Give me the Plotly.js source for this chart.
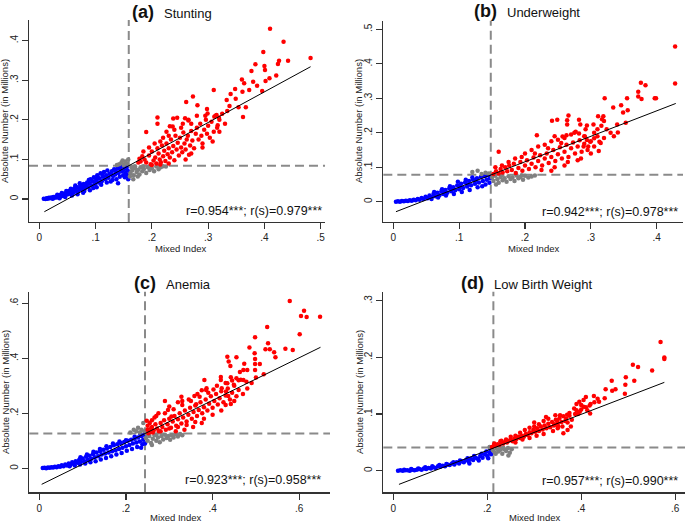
<!DOCTYPE html>
<html>
<head>
<meta charset="utf-8">
<script src="https://cdn.plot.ly/plotly-3.0.1.min.js"></script>
<style>
  html, body { margin: 0; padding: 0; background: #fff; }
  #chart { width: 685px; height: 522px; }
</style>
</head>
<body>
<div id="chart"></div>
<script>
// panel labels
const LETTERS = ["(a)", "(b)", "(c)", "(d)"];
const OUTCOMES = ["Stunting", "Underweight", "Anemia", "Low Birth Weight"];
const R_TEXT = [
  "r=0.954***; r(s)=0.979***",
  "r=0.942***; r(s)=0.978***",
  "r=0.923***; r(s)=0.958***",
  "r=0.957***; r(s)=0.990***"
];

// dashed cut-offs (mixed index, absolute number)
const CUT_X = [0.159, 0.148, 0.244, 0.213];
const CUT_Y = [0.084, 0.078, 0.127, 0.041];

// fitted line end points
const FIT_START = [[0.009, -0.032], [0.004, -0.029], [0.0055, -0.058], [0.012, -0.024]];
const FIT_END = [[0.482, 0.334], [0.429, 0.285], [0.649, 0.44], [0.577, 0.156]];

// tick values per panel
const X_TICKS = [[0, .1, .2, .3, .4, .5], [0, .1, .2, .3, .4], [0, .2, .4, .6], [0, .2, .4, .6]];
const Y_TICKS = [[0, .1, .2, .3, .4], [0, .1, .2, .3, .4, .5], [0, .2, .4, .6], [0, .1, .2, .3]];

// ---- (a) Stunting
const stuntingBlue = [
  [0.008,0.001],[0.011,0.0],[0.013,0.002],[0.015,0.001],[0.017,0.003],[0.019,0.002],[0.021,0.004],[0.023,0.002],
  [0.025,0.005],[0.027,0.003],[0.029,0.006],[0.031,0.004],[0.033,0.008],[0.035,0.005],[0.037,0.01],[0.039,0.007],
  [0.041,0.012],[0.043,0.008],[0.045,0.014],[0.047,0.01],[0.049,0.016],[0.051,0.012],[0.053,0.02],[0.055,0.014],
  [0.057,0.018],[0.059,0.024],[0.061,0.016],[0.063,0.028],[0.065,0.021],[0.067,0.03],[0.069,0.019],[0.071,0.026],
  [0.073,0.034],[0.075,0.024],[0.077,0.031],[0.079,0.038],[0.081,0.027],[0.083,0.035],[0.085,0.042],[0.087,0.03],
  [0.089,0.04],[0.091,0.05],[0.093,0.034],[0.095,0.045],[0.097,0.055],[0.099,0.038],[0.101,0.048],[0.103,0.06],
  [0.105,0.042],[0.107,0.052],[0.109,0.065],[0.111,0.045],[0.113,0.056],[0.115,0.068],[0.117,0.05],[0.119,0.06],
  [0.121,0.072],[0.123,0.054],[0.125,0.064],[0.127,0.044],[0.129,0.07],[0.131,0.058],[0.133,0.075],[0.135,0.062],
  [0.137,0.05],[0.139,0.078],[0.141,0.066],[0.143,0.056],[0.145,0.082],[0.147,0.07],[0.149,0.06],[0.151,0.076],
  [0.153,0.066],[0.155,0.08],[0.157,0.072],[0.159,0.062],[0.152,0.055],[0.144,0.074],[0.136,0.07],[0.128,0.062],
  [0.12,0.042],[0.112,0.062],[0.104,0.055],[0.096,0.028],[0.088,0.048],[0.08,0.02],[0.072,0.04],[0.064,0.034],
  [0.056,0.026],[0.048,0.02],[0.04,0.015],[0.032,0.011],[0.11,0.036],[0.13,0.048],[0.14,0.04],[0.158,0.05],[0.156,0.058],
  [0.024,0.001],[0.036,0.002],[0.046,0.005],[0.058,0.009],[0.068,0.012],[0.078,0.016],[0.09,0.022],[0.102,0.03]
];
const stuntingGray = [
  [0.142,0.088],[0.146,0.092],[0.15,0.086],[0.153,0.095],[0.156,0.089],[0.158,0.1],[0.148,0.097],[0.138,0.086],
  [0.162,0.065],[0.165,0.072],[0.168,0.06],[0.17,0.078],[0.173,0.068],[0.176,0.074],[0.178,0.062],[0.18,0.08],
  [0.183,0.07],[0.186,0.076],[0.19,0.066],[0.193,0.08],[0.196,0.073],[0.2,0.078],[0.204,0.07],[0.208,0.082],
  [0.212,0.075],[0.216,0.08],[0.22,0.083],[0.164,0.08],[0.17,0.083],[0.175,0.057],[0.185,0.083],[0.198,0.083],
  [0.161,0.057],[0.167,0.05],[0.225,0.082]
];
const stuntingRed = [
  [0.41,0.43],[0.434,0.397],[0.398,0.371],[0.482,0.356],[0.442,0.349],[0.426,0.349],[0.384,0.34],[0.4,0.336],
  [0.401,0.326],[0.424,0.341],[0.377,0.323],[0.36,0.302],[0.364,0.292],[0.38,0.296],[0.387,0.286],[0.421,0.312],
  [0.409,0.305],[0.402,0.298],[0.396,0.273],[0.373,0.275],[0.361,0.271],[0.348,0.278],[0.34,0.265],[0.349,0.253],
  [0.333,0.25],[0.338,0.235],[0.354,0.232],[0.367,0.232],[0.334,0.222],[0.362,0.207],[0.31,0.275],[0.273,0.259],
  [0.261,0.245],[0.281,0.237],[0.298,0.227],[0.299,0.216],[0.311,0.208],[0.315,0.212],[0.319,0.206],[0.317,0.186],
  [0.21,0.206],[0.21,0.19],[0.238,0.203],[0.232,0.184],[0.19,0.169],[0.259,0.204],[0.237,0.183],[0.265,0.198],
  [0.187,0.1],[0.19,0.092],[0.195,0.11],[0.198,0.088],[0.2,0.12],[0.203,0.097],[0.206,0.105],[0.208,0.09],
  [0.21,0.128],[0.212,0.115],[0.214,0.1],[0.216,0.093],[0.218,0.135],[0.22,0.108],[0.222,0.122],[0.224,0.096],
  [0.226,0.14],[0.228,0.113],[0.23,0.128],[0.232,0.105],[0.234,0.15],[0.236,0.118],[0.238,0.134],[0.24,0.098],
  [0.242,0.16],[0.244,0.125],[0.246,0.142],[0.248,0.11],[0.25,0.155],[0.252,0.13],[0.254,0.118],[0.256,0.168],
  [0.258,0.14],[0.26,0.125],[0.262,0.15],[0.264,0.16],[0.266,0.112],[0.268,0.135],[0.27,0.172],[0.272,0.148],
  [0.275,0.128],[0.278,0.165],[0.28,0.18],[0.283,0.15],[0.286,0.19],[0.288,0.16],[0.29,0.14],[0.293,0.175],
  [0.296,0.2],[0.298,0.165],[0.3,0.185],[0.303,0.155],[0.306,0.195],[0.31,0.17],[0.313,0.21],[0.316,0.18],
  [0.32,0.2],[0.325,0.215],[0.33,0.19],[0.245,0.205],[0.255,0.19],[0.226,0.17],[0.24,0.175],[0.252,0.18],
  [0.265,0.2],[0.28,0.21],[0.22,0.155],[0.205,0.14],[0.195,0.13],[0.185,0.12],[0.18,0.095],[0.183,0.108],
  [0.176,0.092],[0.178,0.102],[0.2,0.086],[0.215,0.087],[0.23,0.09],[0.26,0.1],[0.27,0.115],[0.29,0.13],
  [0.308,0.145],[0.32,0.17],[0.295,0.21],[0.27,0.19],[0.23,0.16],[0.215,0.145]
];

// ---- (b) Underweight
const underweightBlue = [
  [0.004,0.0],[0.007,0.001],[0.01,0.0],[0.013,0.002],[0.016,0.001],[0.019,0.003],[0.022,0.002],[0.025,0.004],
  [0.028,0.003],[0.031,0.006],[0.034,0.004],[0.037,0.008],[0.04,0.006],[0.043,0.011],[0.046,0.008],[0.049,0.014],
  [0.052,0.01],[0.055,0.018],[0.058,0.013],[0.061,0.022],[0.064,0.016],[0.067,0.026],[0.07,0.019],[0.073,0.03],
  [0.076,0.022],[0.079,0.034],[0.082,0.026],[0.085,0.038],[0.088,0.03],[0.091,0.042],[0.094,0.033],[0.097,0.047],
  [0.1,0.036],[0.103,0.052],[0.106,0.04],[0.109,0.056],[0.112,0.044],[0.115,0.06],[0.118,0.048],[0.121,0.064],
  [0.124,0.052],[0.127,0.068],[0.13,0.056],[0.133,0.072],[0.136,0.06],[0.139,0.074],[0.142,0.064],[0.145,0.076],
  [0.147,0.068],[0.14,0.05],[0.128,0.042],[0.116,0.034],[0.104,0.028],[0.092,0.022],[0.08,0.018],[0.068,0.012],
  [0.058,0.008],[0.11,0.064],[0.12,0.07],[0.098,0.058],[0.086,0.045],[0.074,0.036],[0.062,0.028],[0.135,0.045],
  [0.146,0.055],[0.125,0.062],[0.113,0.05],[0.101,0.045],[0.089,0.038],[0.077,0.028]
];
const underweightGray = [
  [0.12,0.086],[0.128,0.09],[0.134,0.08],[0.14,0.084],[0.145,0.082],[0.15,0.07],[0.152,0.06],[0.155,0.075],
  [0.158,0.065],[0.16,0.055],[0.163,0.072],[0.166,0.062],[0.169,0.068],[0.172,0.058],[0.175,0.074],[0.178,0.066],
  [0.181,0.07],[0.184,0.06],[0.187,0.076],[0.19,0.068],[0.193,0.072],[0.197,0.064],[0.2,0.075],[0.205,0.07],
  [0.21,0.073],[0.156,0.05],[0.165,0.077],[0.215,0.076],[0.195,0.077]
];
const underweightRed = [
  [0.428,0.45],[0.428,0.343],[0.376,0.345],[0.383,0.338],[0.372,0.319],[0.372,0.305],[0.377,0.298],[0.397,0.3],
  [0.399,0.3],[0.355,0.3],[0.321,0.3],[0.346,0.28],[0.356,0.265],[0.349,0.259],[0.334,0.273],[0.311,0.248],
  [0.319,0.248],[0.317,0.239],[0.32,0.234],[0.316,0.22],[0.266,0.25],[0.241,0.235],[0.249,0.238],[0.264,0.236],
  [0.264,0.224],[0.282,0.238],[0.284,0.224],[0.294,0.221],[0.292,0.21],[0.304,0.224],[0.34,0.224],[0.341,0.201],
  [0.353,0.229],[0.324,0.21],[0.277,0.203],[0.282,0.198],[0.263,0.193],[0.257,0.189],[0.245,0.19],[0.218,0.193],
  [0.291,0.189],[0.294,0.179],[0.299,0.174],[0.305,0.184],[0.313,0.174],[0.312,0.147],[0.296,0.16],[0.289,0.16],
  [0.16,0.145],
  [0.152,0.08],[0.156,0.088],[0.16,0.082],[0.163,0.095],[0.166,0.085],[0.17,0.1],[0.173,0.088],[0.176,0.105],
  [0.18,0.092],[0.183,0.11],[0.186,0.083],[0.19,0.098],[0.193,0.115],[0.196,0.09],[0.2,0.105],[0.203,0.12],
  [0.206,0.095],[0.21,0.11],[0.213,0.128],[0.216,0.1],[0.22,0.118],[0.223,0.135],[0.226,0.105],[0.23,0.125],
  [0.233,0.14],[0.236,0.112],[0.24,0.13],[0.243,0.15],[0.246,0.118],[0.25,0.138],[0.253,0.158],[0.256,0.125],
  [0.26,0.145],[0.263,0.165],[0.266,0.13],[0.27,0.155],[0.273,0.172],[0.276,0.14],[0.28,0.16],[0.283,0.178],
  [0.286,0.145],[0.29,0.168],[0.295,0.15],[0.3,0.175],[0.305,0.16],[0.31,0.19],[0.315,0.17],[0.2,0.14],
  [0.21,0.15],[0.22,0.16],[0.23,0.165],[0.24,0.175],[0.25,0.18],[0.26,0.185],[0.27,0.195],[0.185,0.125],
  [0.175,0.115],[0.165,0.105],[0.155,0.1],[0.195,0.13],[0.225,0.092],[0.245,0.1],[0.265,0.115],[0.285,0.125],
  [0.275,0.2],[0.255,0.17],[0.235,0.155],[0.215,0.14],[0.24,0.09],[0.26,0.105],[0.28,0.12],[0.3,0.14],
  [0.32,0.185],[0.33,0.2],[0.335,0.19],[0.29,0.19],[0.305,0.2],[0.31,0.21]
];

// ---- (c) Anemia
const anemiaBlue = [
  [0.008,0.001],[0.012,0.002],[0.016,0.0],[0.02,0.003],[0.024,0.002],[0.028,0.004],[0.032,0.003],[0.036,0.006],
  [0.04,0.004],[0.044,0.008],[0.048,0.006],[0.052,0.011],[0.056,0.008],[0.06,0.014],[0.064,0.01],[0.068,0.018],
  [0.072,0.013],[0.076,0.022],[0.08,0.016],[0.084,0.026],[0.088,0.02],[0.092,0.03],[0.096,0.023],[0.1,0.036],
  [0.104,0.026],[0.108,0.042],[0.112,0.03],[0.116,0.046],[0.12,0.035],[0.124,0.052],[0.128,0.04],[0.132,0.058],
  [0.136,0.044],[0.14,0.062],[0.144,0.05],[0.148,0.068],[0.152,0.054],[0.156,0.072],[0.16,0.058],[0.164,0.078],
  [0.168,0.062],[0.172,0.084],[0.176,0.066],[0.18,0.088],[0.184,0.07],[0.188,0.092],[0.192,0.075],[0.196,0.096],
  [0.2,0.08],[0.204,0.1],[0.208,0.085],[0.212,0.104],[0.216,0.09],[0.22,0.108],[0.224,0.094],[0.228,0.112],
  [0.232,0.098],[0.236,0.118],[0.24,0.104],[0.243,0.122],[0.238,0.088],[0.226,0.078],[0.214,0.07],[0.202,0.064],
  [0.19,0.056],[0.178,0.05],[0.166,0.044],[0.154,0.038],[0.142,0.032],[0.13,0.026],[0.118,0.022],[0.106,0.018],
  [0.094,0.014],[0.082,0.01],[0.07,0.008],[0.185,0.098],[0.2,0.102],[0.17,0.09],[0.155,0.08],[0.14,0.07],
  [0.125,0.06],[0.11,0.05],[0.095,0.04],[0.233,0.125],[0.22,0.115],[0.244,0.09],[0.235,0.075]
];
const anemiaGray = [
  [0.21,0.13],[0.218,0.14],[0.224,0.135],[0.228,0.148],[0.232,0.13],[0.236,0.14],[0.24,0.165],[0.243,0.135],
  [0.246,0.11],[0.25,0.1],[0.254,0.118],[0.258,0.092],[0.262,0.108],[0.266,0.12],[0.27,0.1],[0.274,0.112],
  [0.278,0.095],[0.282,0.118],[0.286,0.105],[0.29,0.122],[0.294,0.11],[0.298,0.118],[0.302,0.104],[0.306,0.12],
  [0.31,0.112],[0.315,0.124],[0.32,0.116],[0.325,0.125],[0.33,0.12],[0.248,0.125],[0.26,0.085],[0.27,0.122]
];
const anemiaRed = [
  [0.578,0.608],[0.611,0.573],[0.604,0.554],[0.617,0.55],[0.648,0.551],[0.601,0.487],[0.585,0.43],[0.568,0.435],
  [0.526,0.514],[0.528,0.455],[0.532,0.433],[0.522,0.433],[0.542,0.422],[0.545,0.404],[0.498,0.476],[0.485,0.439],
  [0.497,0.418],[0.498,0.397],[0.498,0.379],[0.509,0.379],[0.498,0.357],[0.518,0.342],[0.434,0.406],[0.437,0.388],
  [0.441,0.372],[0.455,0.404],[0.473,0.38],[0.463,0.35],[0.471,0.357],[0.48,0.357],[0.419,0.332],[0.419,0.321],
  [0.442,0.331],[0.445,0.319],[0.455,0.327],[0.465,0.322],[0.471,0.321],[0.478,0.315],[0.381,0.321],[0.434,0.309],
  [0.449,0.304],[0.375,0.284],[0.386,0.291],[0.402,0.287],[0.421,0.291],[0.431,0.279],[0.436,0.263],[0.442,0.234],
  [0.328,0.26],[0.33,0.245],[0.358,0.263],[0.362,0.233],[0.297,0.212],[0.305,0.188],[0.248,0.173],
  [0.25,0.14],[0.255,0.132],[0.26,0.15],[0.264,0.138],[0.268,0.16],[0.272,0.145],[0.276,0.135],[0.28,0.165],
  [0.284,0.15],[0.288,0.175],[0.292,0.14],[0.296,0.16],[0.3,0.18],[0.304,0.148],[0.308,0.17],[0.312,0.19],
  [0.316,0.155],[0.32,0.178],[0.324,0.2],[0.328,0.163],[0.332,0.185],[0.336,0.21],[0.34,0.17],[0.344,0.195],
  [0.348,0.22],[0.352,0.18],[0.356,0.205],[0.36,0.228],[0.364,0.19],[0.368,0.212],[0.372,0.24],[0.376,0.2],
  [0.38,0.222],[0.384,0.25],[0.388,0.21],[0.392,0.235],[0.396,0.262],[0.4,0.22],[0.404,0.245],[0.408,0.27],
  [0.412,0.232],[0.416,0.255],[0.42,0.28],[0.425,0.24],[0.43,0.265],[0.435,0.29],[0.44,0.25],[0.445,0.275],
  [0.45,0.3],[0.455,0.262],[0.46,0.285],[0.27,0.19],[0.29,0.2],[0.31,0.215],[0.33,0.23],[0.35,0.245],
  [0.37,0.26],[0.39,0.275],[0.28,0.135],[0.3,0.145],[0.32,0.15],[0.34,0.158],[0.36,0.168],[0.38,0.18],
  [0.4,0.195],[0.42,0.21],[0.26,0.175],[0.255,0.165],[0.275,0.2],[0.3,0.225],[0.32,0.24],[0.29,0.245],
  [0.345,0.25],[0.365,0.27],[0.385,0.285],[0.41,0.3],[0.43,0.31],[0.315,0.135],[0.335,0.14],[0.355,0.15],
  [0.375,0.165],[0.252,0.128],[0.262,0.13],[0.43,0.23],[0.45,0.245],[0.47,0.27],[0.48,0.29],[0.49,0.31],
  [0.5,0.33],[0.46,0.32],[0.25,0.155],[0.258,0.145],[0.266,0.185]
];

// ---- (d) Low Birth Weight
const lbwBlue = [
  [0.01,0.0],[0.015,0.001],[0.02,0.0],[0.025,0.001],[0.03,0.001],[0.035,0.0],[0.04,0.002],[0.045,0.001],
  [0.05,0.002],[0.055,0.003],[0.06,0.002],[0.065,0.004],[0.07,0.003],[0.075,0.005],[0.08,0.004],[0.085,0.006],
  [0.09,0.005],[0.095,0.008],[0.1,0.007],[0.105,0.009],[0.11,0.008],[0.115,0.011],[0.12,0.01],[0.125,0.013],
  [0.13,0.011],[0.135,0.015],[0.14,0.013],[0.145,0.017],[0.15,0.015],[0.155,0.019],[0.16,0.017],[0.165,0.021],
  [0.17,0.019],[0.175,0.023],[0.18,0.021],[0.185,0.026],[0.19,0.023],[0.195,0.029],[0.2,0.026],[0.205,0.032],
  [0.208,0.029],[0.21,0.036],[0.188,0.03],[0.172,0.026],[0.158,0.022],[0.142,0.018],[0.128,0.015],[0.113,0.012],
  [0.098,0.01],[0.083,0.008],[0.068,0.006],[0.053,0.004],[0.038,0.003],[0.023,0.002],[0.198,0.034],[0.182,0.018],
  [0.162,0.013],[0.202,0.022],[0.207,0.038]
];
const lbwGray = [
  [0.205,0.042],[0.212,0.036],[0.216,0.032],[0.22,0.039],[0.224,0.034],[0.228,0.037],[0.232,0.03],[0.236,0.038],
  [0.24,0.035],[0.244,0.04],[0.248,0.032],[0.252,0.038],[0.245,0.027],[0.226,0.04],[0.234,0.041],[0.218,0.03]
];
const lbwRed = [
  [0.569,0.227],[0.577,0.2],[0.577,0.197],[0.551,0.177],[0.51,0.187],[0.521,0.183],[0.495,0.165],[0.494,0.152],
  [0.513,0.159],[0.493,0.136],[0.465,0.159],[0.452,0.144],[0.466,0.141],[0.473,0.144],[0.45,0.128],[0.427,0.132],
  [0.435,0.127],[0.438,0.122],[0.428,0.121],[0.396,0.122],[0.4,0.116],[0.405,0.113],[0.41,0.112],[0.39,0.107],
  [0.397,0.104],[0.393,0.1],[0.413,0.107],[0.419,0.101],[0.375,0.102],[0.387,0.1],[0.368,0.092],[0.371,0.085],
  [0.378,0.078],[0.355,0.098],[0.349,0.089],[0.344,0.082],[0.351,0.078],[0.362,0.066],[0.371,0.072],
  [0.21,0.042],[0.214,0.044],[0.218,0.045],[0.222,0.047],[0.226,0.046],[0.23,0.049],[0.234,0.048],[0.238,0.051],
  [0.242,0.05],[0.246,0.053],[0.25,0.055],[0.254,0.052],[0.258,0.057],[0.262,0.056],[0.266,0.06],[0.27,0.058],
  [0.274,0.062],[0.278,0.06],[0.282,0.065],[0.286,0.063],[0.29,0.068],[0.294,0.066],[0.298,0.072],[0.302,0.069],
  [0.306,0.075],[0.31,0.07],[0.314,0.078],[0.318,0.073],[0.322,0.08],[0.326,0.075],[0.33,0.083],[0.334,0.077],
  [0.338,0.086],[0.342,0.08],[0.346,0.09],[0.35,0.083],[0.354,0.093],[0.358,0.086],[0.362,0.096],[0.366,0.088],
  [0.37,0.099],[0.3,0.078],[0.31,0.082],[0.32,0.088],[0.33,0.092],[0.34,0.07],[0.35,0.075],[0.28,0.072],
  [0.29,0.076],[0.26,0.062],[0.27,0.067],[0.24,0.055],[0.25,0.06],[0.23,0.053],[0.32,0.065],[0.305,0.062],
  [0.29,0.058],[0.275,0.055],[0.26,0.05],[0.36,0.078],[0.38,0.09],[0.375,0.097],[0.385,0.11],[0.4,0.108],
  [0.39,0.118],[0.405,0.125],[0.41,0.13],[0.418,0.115],[0.42,0.118],[0.325,0.095],[0.345,0.098],[0.3,0.085],
  [0.215,0.048],[0.228,0.052]
];

const GROUPS = [
  [stuntingBlue, stuntingGray, stuntingRed],
  [underweightBlue, underweightGray, underweightRed],
  [anemiaBlue, anemiaGray, anemiaRed],
  [lbwBlue, lbwGray, lbwRed]
];
const GROUP_COLORS = ["#0000ff", "#808080", "#ff0000"];

// ---- layout geometry (paper fractions)
const X_DOMAIN = [[0.0423, 0.4745], [0.5596, 0.9971], [0.0428, 0.4818], [0.5596, 1.0]];
const Y_DOMAIN = [[0.5747, 0.9617], [0.5753, 0.9603], [0.0569, 0.4412], [0.0569, 0.4412]];
const X_RANGE = [[-0.0183, 0.5077], [-0.0152, 0.44], [-0.023, 0.671], [-0.0213, 0.621]];
const Y_RANGE = [[-0.058, 0.452], [-0.058, 0.525], [-0.087, 0.642], [-0.038, 0.316]];

const W = 685, H = 522;
const px = v => v / W;
const py = v => 1 - v / H;

const FONT = "Liberation Sans, Arial, sans-serif";
const AXIS_COLOR = "#333";

const label = v => v === 0 ? "0" : String(v).replace(/^0/, "");

const traces = [];
const layout = {
  width: W, height: H,
  margin: { t: 0, r: 0, b: 0, l: 0, pad: 0 },
  paper_bgcolor: "#fff",
  plot_bgcolor: "#fff",
  showlegend: false,
  font: { family: FONT, color: "#222" },
  shapes: [],
  annotations: []
};

// title, axis title and r text positions (pixels)
const TITLE_POS = [[172, 12], [527, 11], [172, 283], [526, 283]];
const XTITLE_POS = [[180, 248], [533, 248], [175, 517], [534, 517]];
const YTITLE_POS = [[5, 121], [359, 121], [5, 392], [359, 392]];
const RTEXT_POS = [[324, 211], [680, 212], [323, 480], [680, 481]];

for (let i = 0; i < 4; i++) {
  const s = i === 0 ? "" : String(i + 1);
  const xa = "x" + s, ya = "y" + s;

  GROUPS[i].forEach((pts, g) => {
    traces.push({
      type: "scatter", mode: "markers",
      x: pts.map(p => p[0]), y: pts.map(p => p[1]),
      xaxis: xa, yaxis: ya,
      marker: { color: GROUP_COLORS[g], size: 4.5 },
      hoverinfo: "skip"
    });
  });

  traces.push({
    type: "scatter", mode: "lines",
    x: [FIT_START[i][0], FIT_END[i][0]],
    y: [FIT_START[i][1], FIT_END[i][1]],
    xaxis: xa, yaxis: ya,
    line: { color: "#000", width: 1 },
    hoverinfo: "skip"
  });

  const axisBase = {
    showgrid: false, zeroline: false,
    showline: true, linecolor: AXIS_COLOR, linewidth: 1.3,
    ticks: "outside", ticklen: 6, tickcolor: AXIS_COLOR, tickwidth: 1.2,
    tickfont: { size: 10, family: FONT, color: "#222" },
    fixedrange: true
  };
  layout["xaxis" + s] = Object.assign({}, axisBase, {
    domain: X_DOMAIN[i], range: X_RANGE[i], anchor: ya,
    tickvals: X_TICKS[i], ticktext: X_TICKS[i].map(label)
  });
  layout["yaxis" + s] = Object.assign({}, axisBase, {
    domain: Y_DOMAIN[i], range: Y_RANGE[i], anchor: xa,
    tickvals: Y_TICKS[i], ticktext: Y_TICKS[i].map(label),
    tickangle: -90
  });

  const dash = { color: "#8a8a8a", width: 2, dash: "9px,5px" };
  layout.shapes.push({
    type: "line", layer: "below", xref: xa, yref: ya + " domain",
    x0: CUT_X[i], x1: CUT_X[i], y0: 0, y1: 1, line: dash
  });
  layout.shapes.push({
    type: "line", layer: "below", xref: xa + " domain", yref: ya,
    x0: 0, x1: 1, y0: CUT_Y[i], y1: CUT_Y[i], line: dash
  });

  layout.annotations.push({
    xref: "paper", yref: "paper", x: px(TITLE_POS[i][0]), y: py(TITLE_POS[i][1]),
    xanchor: "center", yanchor: "middle", showarrow: false,
    text: "<b>" + LETTERS[i] + "</b>  <span style='font-size:13px'>" + OUTCOMES[i] + "</span>",
    font: { size: 18, family: FONT, color: "#111" }
  });
  layout.annotations.push({
    xref: "paper", yref: "paper", x: px(XTITLE_POS[i][0]), y: py(XTITLE_POS[i][1]),
    xanchor: "center", yanchor: "middle", showarrow: false,
    text: "Mixed Index", font: { size: 9.5, family: FONT, color: "#222" }
  });
  layout.annotations.push({
    xref: "paper", yref: "paper", x: px(YTITLE_POS[i][0]), y: py(YTITLE_POS[i][1]),
    xanchor: "center", yanchor: "middle", showarrow: false, textangle: -90,
    text: "Absolute Number (in Millions)", font: { size: 9.5, family: FONT, color: "#222" }
  });
  layout.annotations.push({
    xref: "paper", yref: "paper", x: px(RTEXT_POS[i][0]), y: py(RTEXT_POS[i][1]),
    xanchor: "right", yanchor: "middle", showarrow: false,
    text: R_TEXT[i], font: { size: 12.5, family: FONT, color: "#111" }
  });
}

Plotly.newPlot("chart", traces, layout, { displayModeBar: false, staticPlot: true });
</script>
</body>
</html>
